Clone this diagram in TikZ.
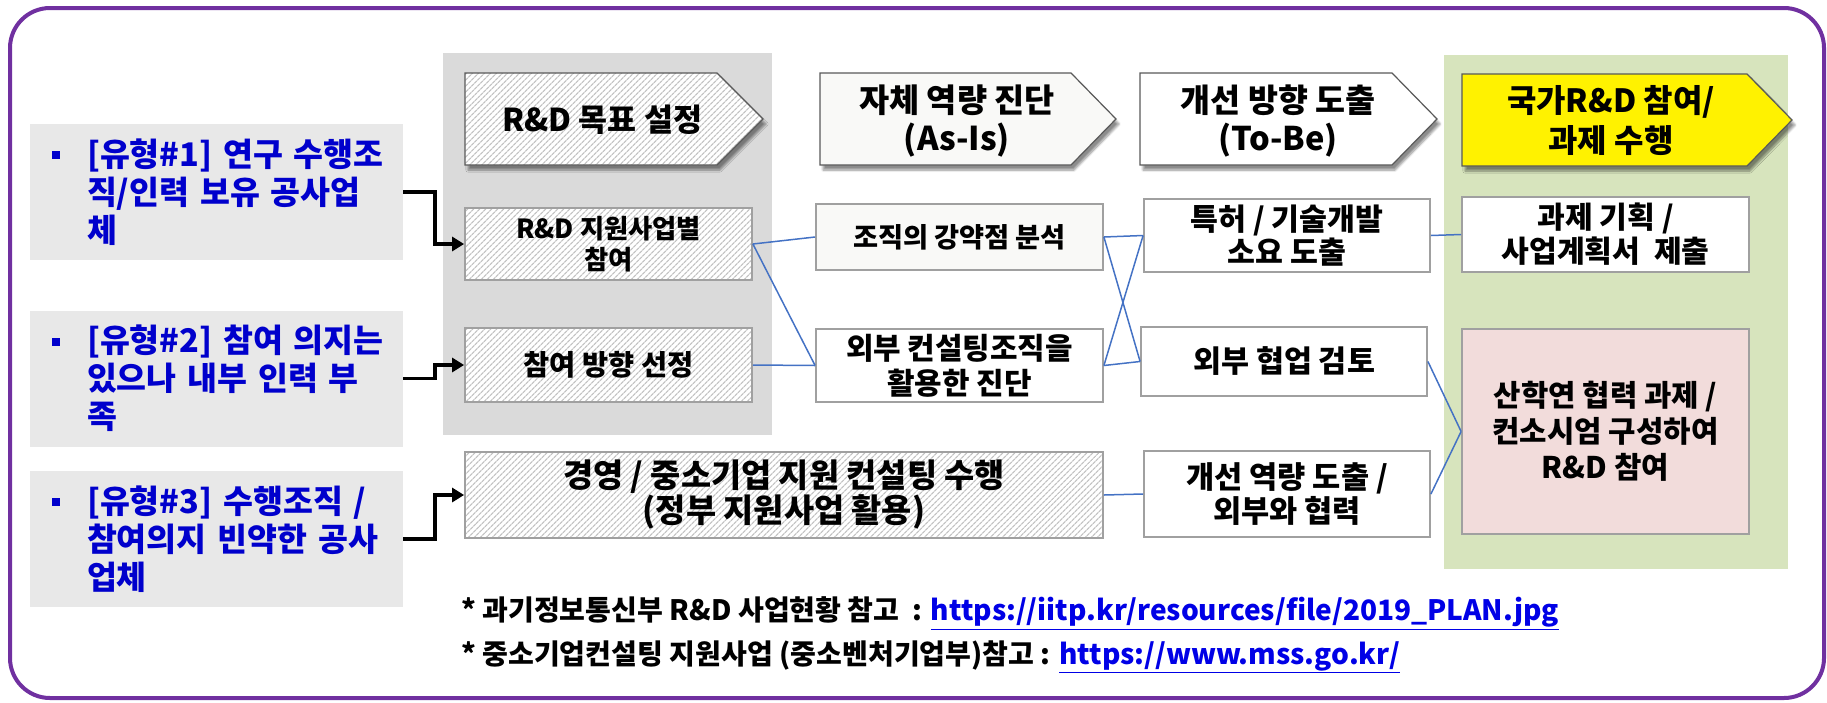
\documentclass[tikz,border=0pt]{standalone}
\usepackage{fontspec}
\setmainfont{Noto Sans CJK KR}
\usetikzlibrary{arrows.meta,patterns.meta,shadows.blur}
\definecolor{purp}{RGB}{112,48,160}
\definecolor{panelgray}{RGB}{218,218,218}
\definecolor{panelgreen}{RGB}{215,228,189}
\definecolor{typegray}{RGB}{232,232,232}
\definecolor{typeblue}{RGB}{0,0,204}
\definecolor{linkblue}{RGB}{0,0,230}
\definecolor{connblue}{RGB}{68,114,196}
\definecolor{boxborder}{RGB}{160,160,160}
\definecolor{hatchgray}{RGB}{195,195,195}
\definecolor{offwhite}{RGB}{249,249,247}
\definecolor{pinkfill}{RGB}{242,220,219}
% #1 = macro receiving the font size that makes sample #3 be #2 pt wide
\newcommand\setfs[3]{%
  \setbox0=\hbox{\fontsize{10pt}{12pt}\selectfont\bfseries #3}%
  \edef\tmpwd{\the\wd0}%
  \pgfmathsetmacro#1{10*#2/\tmpwd}}
\newcommand\bul{\hspace*{11pt}\makebox[35pt][l]{\rule[7pt]{8pt}{8pt}}}
\newcommand\ind{\hspace*{46pt}}
\begin{document}
\setfs\fsT{290}{[유형\#1] 연구 수행조}%
\setfs\fsHa{200}{R\&D 목표 설정}%
\setfs\fsHb{196}{자체 역량 진단}%
\setfs\fsHc{195}{개선 방향 도출}%
\setfs\fsHd{208}{국가R\&D 참여/}%
\setfs\fsBa{185}{R\&D 지원사업별}%
\setfs\fsBb{170}{참여 방향 선정}%
\setfs\fsCa{213}{조직의 강약점 분석}%
\setfs\fsCb{227}{외부 컨설팅조직을}%
\setfs\fsDa{193}{특허 / 기술개발}%
\setfs\fsDb{182}{외부 협업 검토}%
\setfs\fsDc{202}{개선 역량 도출 /}%
\setfs\fsE{442}{경영 / 중소기업 지원 컨설팅 수행}%
\setfs\fsFa{208}{사업계획서\ \ 제출}%
\setfs\fsFb{226}{컨소시엄 구성하여}%
\setfs\fsN{1098}{* 과기정보통신부 R\&D 사업현황 참고\ \ : https://iitp.kr/resources/file/2019\_PLAN.jpg}%
\begin{tikzpicture}[x=1pt,y=-1pt,
  hatched/.style={preaction={fill=white}, pattern={Lines[angle=45,distance=4pt,line width=1.3pt]}, pattern color=hatchgray},
  shad/.style={blur shadow={shadow xshift=3pt,shadow yshift=-5pt,shadow blur steps=8,shadow opacity=45}},
  hdr/.style={draw=gray!70!black, line width=1.2pt},
  hdrtext/.style={align=center, inner sep=0pt},
  rbox/.style={draw=boxborder, line width=1.8pt, inner sep=0pt, align=center},
  typebox/.style={fill=typegray, minimum width=373pt, minimum height=136pt, text width=351pt, inner xsep=11pt, inner ysep=0pt, align=left, text=typeblue},
  conn/.style={draw=connblue, line width=1.5pt},
  feed/.style={draw=black, line width=3.5pt, -{Triangle[length=12pt,width=14pt]}},
  fnote/.style={anchor=west, inner sep=0pt},
]
\useasboundingbox (0,0) rectangle (1827,702);
% outer frame
\draw[draw=purp, line width=4pt, rounded corners=40pt] (10,8) rectangle (1824,698);
% panels
\fill[panelgray] (443,53) rectangle (772,435);
\fill[panelgreen] (1444,55) rectangle (1788,569);
% type boxes
\node[typebox, font=\fontsize{\fsT pt}{38pt}\selectfont\bfseries] (t1) at (216.5,192) {\bul[유형\#1] 연구 수행조\\ \ind 직/인력 보유 공사업\\ \ind 체};
\node[typebox, font=\fontsize{\fsT pt}{38pt}\selectfont\bfseries] (t2) at (216.5,378.5) {\bul[유형\#2] 참여 의지는\\ \ind 있으나 내부 인력 부\\ \ind 족};
\node[typebox, font=\fontsize{\fsT pt}{38pt}\selectfont\bfseries] (t3) at (216.5,539) {\bul[유형\#3] 수행조직 /\\ \ind 참여의지 빈약한 공사\\ \ind 업체};
% header arrows
\path[shad, hatched, hdr] (465,73) -- (717,73) -- (763,119) -- (717,165) -- (465,165) -- cycle;
\path[shad, fill=offwhite, hdr] (820,73) -- (1071,73) -- (1116,119) -- (1071,165) -- (820,165) -- cycle;
\path[shad, fill=white, hdr] (1140,73) -- (1392,73) -- (1437,119) -- (1392,165) -- (1140,165) -- cycle;
\path[shad, fill=yellow, hdr] (1462,74) -- (1747,74) -- (1792,120) -- (1747,166) -- (1462,166) -- cycle;
\node[hdrtext, font=\fontsize{\fsHa pt}{38pt}\selectfont\bfseries] (h1) at (602,120) {R\&D 목표 설정};
\node[hdrtext, font=\fontsize{\fsHb pt}{38pt}\selectfont\bfseries] (h2) at (957,121) {자체 역량 진단\\(As-Is)};
\node[hdrtext, font=\fontsize{\fsHc pt}{38pt}\selectfont\bfseries] (h3) at (1278,121) {개선 방향 도출\\(To-Be)};
\node[hdrtext, font=\fontsize{\fsHd pt}{40pt}\selectfont\bfseries] (h4) at (1611,121) {국가R\&D 참여/\\과제 수행};
% boxes
\node[rbox, hatched, minimum width=287pt, minimum height=72pt, font=\fontsize{\fsBa pt}{31pt}\selectfont\bfseries] (b1) at (608.5,244) {R\&D 지원사업별\\참여};
\node[rbox, hatched, minimum width=287pt, minimum height=74pt, font=\fontsize{\fsBb pt}{31pt}\selectfont\bfseries] (b2) at (608.5,365) {참여 방향 선정};
\node[rbox, fill=offwhite, minimum width=287pt, minimum height=66pt, font=\fontsize{\fsCa pt}{33pt}\selectfont\bfseries] (c1) at (959.5,237) {조직의 강약점 분석};
\node[rbox, fill=white, minimum width=287pt, minimum height=73pt, font=\fontsize{\fsCb pt}{35pt}\selectfont\bfseries] (c2) at (959.5,365.5) {외부 컨설팅조직을\\활용한 진단};
\node[rbox, fill=white, minimum width=286pt, minimum height=73pt, font=\fontsize{\fsDa pt}{33pt}\selectfont\bfseries] (d1) at (1287,235.5) {특허 / 기술개발\\소요 도출};
\node[rbox, fill=white, minimum width=286pt, minimum height=69pt, font=\fontsize{\fsDb pt}{33pt}\selectfont\bfseries] (d2) at (1284,361.5) {외부 협업 검토};
\node[rbox, fill=white, minimum width=286pt, minimum height=86pt, font=\fontsize{\fsDc pt}{34pt}\selectfont\bfseries] (d3) at (1287,494) {개선 역량 도출 /\\외부와 협력};
\node[rbox, hatched, minimum width=638pt, minimum height=86pt, font=\fontsize{\fsE pt}{35pt}\selectfont\bfseries] (e) at (784,495) {경영 / 중소기업 지원 컨설팅 수행\\(정부 지원사업 활용)};
\node[rbox, fill=white, minimum width=287pt, minimum height=75pt, font=\fontsize{\fsFa pt}{34pt}\selectfont\bfseries] (f1) at (1605.5,234.5) {과제 기획 /\\사업계획서\ \ 제출};
\node[rbox, fill=pinkfill, minimum width=287pt, minimum height=205pt, font=\fontsize{\fsFb pt}{36pt}\selectfont\bfseries] (f2) at (1605.5,431.5) {산학연 협력 과제 /\\컨소시엄 구성하여\\R\&D 참여};
% connectors
\draw[conn] (b1.east) -- (c1.west);
\draw[conn] (b1.east) -- (c2.west);
\draw[conn] (b2.east) -- (c2.west);
\draw[conn] (c1.east) -- (d1.west);
\draw[conn] (c1.east) -- (d2.west);
\draw[conn] (c2.east) -- (d1.west);
\draw[conn] (c2.east) -- (d2.west);
\draw[conn] (e.east) -- (d3.west);
\draw[conn] (d1.east) -- (f1.west);
\draw[conn] (d2.east) -- (f2.west);
\draw[conn] (d3.east) -- (f2.west);
% feed arrows
\draw[feed] (t1.east) -- ++(32,0) |- (b1.west);
\draw[feed] (t2.east) -- ++(32,0) |- (b2.west);
\draw[feed] (t3.east) -- ++(32,0) |- (e.west);
% footnotes
\node[fnote, font=\fontsize{\fsN pt}{30pt}\selectfont\bfseries] (n1) at (461,613) {* 과기정보통신부 R\&D 사업현황 참고\ \ : \textcolor{linkblue}{\underline{https://iitp.kr/resources/file/2019\_PLAN.jpg}}};
\node[fnote, font=\fontsize{\fsN pt}{30pt}\selectfont\bfseries] (n2) at (461,657) {* 중소기업컨설팅 지원사업 (중소벤처기업부)참고 : \textcolor{linkblue}{\underline{https://www.mss.go.kr/}}};
\end{tikzpicture}
\end{document}
